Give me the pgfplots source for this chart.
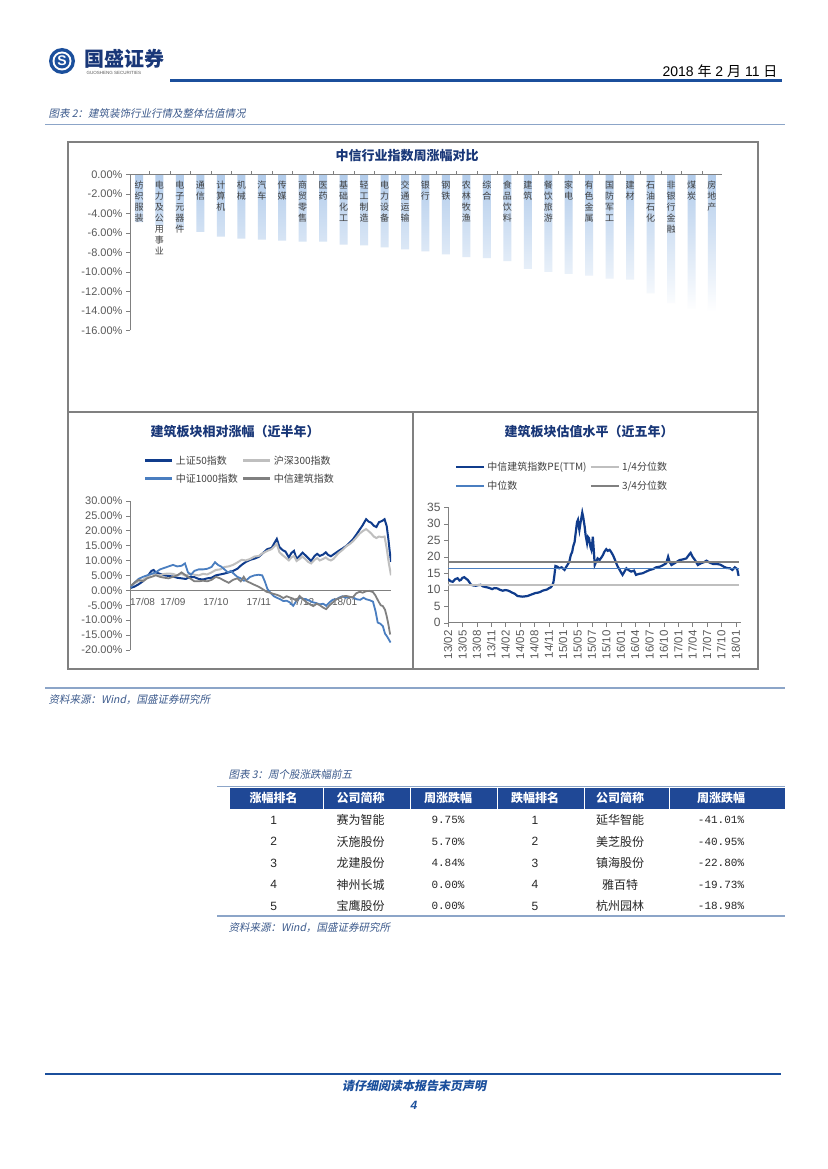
\documentclass[border=0pt]{standalone}
\usepackage{fontspec}
\usepackage{pgfplots}
\pgfplotsset{compat=1.18}
\setmainfont{Liberation Sans}
\newfontfamily\cjk{Noto Sans CJK SC}
\newfontfamily\cjkit{Noto Sans CJK SC}[FakeSlant=0.2]
\newfontfamily\mono{Liberation Mono}
\definecolor{navy}{RGB}{25,55,120}
\definecolor{hdrblue}{RGB}{27,79,156}
\definecolor{capblue}{RGB}{60,90,140}
\definecolor{linegrey}{RGB}{128,128,128}
\definecolor{lbl}{RGB}{89,89,89}
\definecolor{txt}{RGB}{64,64,64}
\definecolor{sz50}{RGB}{16,60,140}
\definecolor{hs300}{RGB}{191,191,191}
\definecolor{zz1000}{RGB}{74,126,192}
\definecolor{zxjz}{RGB}{128,128,128}
\definecolor{barblue}{RGB}{178,204,235}
\definecolor{tblblue}{RGB}{31,72,150}
\definecolor{rulelb}{RGB}{140,165,200}
\newcommand{\fs}[1]{\fontsize{#1}{#1}\selectfont}
\begin{document}
\begin{tikzpicture}[x=1pt,y=1pt]
\useasboundingbox[fill=white] (0,0) rectangle (827,-1169);
% ---------- header ----------
\fill[hdrblue] (62,-61) circle (13);
\fill[white] (62,-61) circle (9.5);
\fill[hdrblue] (62,-61) circle (7.5);
\node[text=white, font=\bfseries\fs{14}] at (62,-61) {S};
\node[anchor=west, font=\cjk\bfseries\fs{20}, text=navy] at (81,-59) {国盛证券};
\node[anchor=west, font=\fs{4.5}, text=lbl] at (83,-72.5) {GUOSHENG SECURITIES};
\node[anchor=east, font=\fs{14}, text=black] at (781,-71) {2018 {\cjk 年} 2 {\cjk 月} 11 {\cjk 日}};
\draw[hdrblue, line width=2.5] (170,-80.5) -- (782,-80.5);
\node[anchor=west, font=\cjkit\fs{10.5}, text=capblue] at (45,-114) {图表 2：建筑装饰行业行情及整体估值情况};
\draw[rulelb, line width=1.2] (45,-124.5) -- (785,-124.5);
% ---------- chart box ----------
\draw[linegrey, line width=1.5] (68,-142) rectangle (758,-669);
\draw[linegrey, line width=1.2] (68,-412) -- (758,-412);
\draw[linegrey, line width=1.2] (413,-412) -- (413,-669);
\node[font=\cjk\bfseries\fs{13}, text=navy] at (407,-156) {中信行业指数周涨幅对比};
\node[font=\cjk\bfseries\fs{13}, text=navy] at (235,-432) {建筑板块相对涨幅（近半年）};
\node[font=\cjk\bfseries\fs{13}, text=navy] at (589,-432) {建筑板块估值水平（近五年）};
% ---------- bar chart ----------
\begin{axis}[at={(130pt,-330.3pt)}, anchor=south west, scale only axis,
  width=592pt, height=156pt, clip=false, axis on top,
  xmin=-0.44, xmax=28.49, ymin=-16, ymax=0,
  axis x line=top, axis y line=left,
  axis line style={-, draw=linegrey, line width=0.8pt},
  xtick={0,...,28}, xtick style={draw=none},
  xticklabels={{纺\\织\\服\\装},{电\\力\\及\\公\\用\\事\\业},{电\\子\\元\\器\\件},{通\\信},{计\\算\\机},{机\\械},{汽\\车},{传\\媒},{商\\贸\\零\\售},{医\\药},{基\\础\\化\\工},{轻\\工\\制\\造},{电\\力\\设\\备},{交\\通\\运\\输},{银\\行},{钢\\铁},{农\\林\\牧\\渔},{综\\合},{食\\品\\饮\\料},{建\\筑},{餐\\饮\\旅\\游},{家\\电},{有\\色\\金\\属},{国\\防\\军\\工},{建\\材},{石\\油\\石\\化},{非\\银\\行\\金\\融},{煤\\炭},{房\\地\\产}},
  xticklabel style={anchor=north, yshift=-7.5pt, align=center, font=\cjk\fontsize{9}{11}\selectfont, text=txt},
  extra x ticks={-0.5,0.5,...,28.5}, extra x tick labels={},
  extra x tick style={xtick style={draw=linegrey}, major tick length=3pt},
  ytick={-16,-14,...,0},
  yticklabels={-16.00\%,-14.00\%,-12.00\%,-10.00\%,-8.00\%,-6.00\%,-4.00\%,-2.00\%,0.00\%},
  tick align=outside, major tick length=4pt, ytick style={draw=linegrey},
  yticklabel style={font=\fs{11}, text=lbl}]
\addplot[ybar, bar width=8pt, draw=none, top color=barblue, bottom color=white] coordinates {
(0,-4.9) (1,-5.3) (2,-5.6) (3,-5.9) (4,-6.4) (5,-6.6) (6,-6.7) (7,-6.8) (8,-6.9) (9,-6.9)
(10,-7.2) (11,-7.3) (12,-7.5) (13,-7.7) (14,-7.9) (15,-8.2) (16,-8.5) (17,-8.6) (18,-8.9) (19,-9.7)
(20,-10.0) (21,-10.2) (22,-10.4) (23,-10.7) (24,-10.8) (25,-12.2) (26,-13.2) (27,-13.8) (28,-14.1)};
\end{axis}
% ---------- relative performance ----------
\begin{axis}[at={(130pt,-650pt)}, anchor=south west, scale only axis,
  width=261pt, height=149.3pt,
  xmin=0, xmax=6.08, ymin=-20, ymax=30,
  axis x line=middle, axis y line=left,
  axis line style={-, draw=linegrey, line width=0.8pt},
  hide obscured x ticks=false, hide obscured y ticks=false,
  xtick={0,...,5}, xticklabels={\makebox[0pt][l]{17/08},17/09,17/10,17/11,17/12,18/01}, xtick style={draw=none},
  xticklabel style={font=\fs{10}, text=lbl},
  ytick={-20,-15,...,30},
  yticklabels={-20.00\%,-15.00\%,-10.00\%,-5.00\%,0.00\%,5.00\%,10.00\%,15.00\%,20.00\%,25.00\%,30.00\%},
  tick align=outside, major tick length=4pt, ytick style={draw=linegrey},
  yticklabel style={font=\fs{11}, text=lbl},
  legend columns=2, legend cell align=left,
  legend style={draw=none, fill=none, font=\cjk\fs{10}, text=txt, at={(0.052,1.315)}, anchor=north west,
    inner sep=0pt, row sep=4pt, /tikz/every even column/.append style={column sep=2pt}},
  legend image code/.code={\draw[#1, line width=3pt] (0pt,0pt) -- (27pt,0pt);}]
\addplot[sz50, line width=2pt] coordinates {
(0.02,0.8) (0.1,1.2) (0.2,2.0) (0.3,3.0) (0.4,4.5) (0.5,6.5) (0.55,6.8) (0.6,6.0) (0.7,5.5) (0.8,5.0) (0.9,4.8) (1.0,4.6) (1.1,4.2) (1.2,4.0) (1.3,3.8) (1.4,4.5) (1.5,4.4) (1.6,3.8) (1.7,3.6) (1.8,4.0) (1.9,4.2) (2.0,5.0) (2.1,5.3) (2.2,5.6) (2.3,6.0) (2.4,6.5) (2.5,7.2) (2.6,8.5) (2.7,9.5) (2.8,10.2) (2.9,10.6) (3.0,11.2) (3.1,12.5) (3.2,13.8) (3.3,14.2) (3.35,15.5) (3.42,17.2) (3.48,14.5) (3.55,13.5) (3.62,13.0) (3.7,11.0) (3.76,12.5) (3.82,13.2) (3.88,10.5) (3.95,11.5) (4.02,12.6) (4.08,11.8) (4.15,10.8) (4.22,9.8) (4.3,11.5) (4.36,12.2) (4.42,11.5) (4.5,12.0) (4.56,12.7) (4.62,11.8) (4.68,11.4) (4.74,12.0) (4.8,12.6) (4.86,13.2) (4.95,14.0) (5.04,14.9) (5.12,16.0) (5.2,17.2) (5.28,18.8) (5.35,20.3) (5.42,21.8) (5.5,23.8) (5.56,23.0) (5.62,22.6) (5.68,21.6) (5.74,21.2) (5.8,22.8) (5.87,23.2) (5.93,23.8) (5.98,21.5) (6.02,17.0) (6.05,13.0) (6.08,9.5)};
\addlegendentry{上证50指数}
\addplot[hs300, line width=2pt] coordinates {
(0.02,1.5) (0.1,2.3) (0.2,3.0) (0.3,3.5) (0.4,4.5) (0.5,5.5) (0.6,5.2) (0.7,5.0) (0.8,5.5) (0.9,5.6) (1.0,5.5) (1.1,5.0) (1.2,5.5) (1.3,4.8) (1.4,5.6) (1.5,5.2) (1.6,5.0) (1.7,5.5) (1.8,5.3) (1.9,6.0) (2.0,6.8) (2.1,7.0) (2.2,7.8) (2.3,8.0) (2.4,8.5) (2.5,9.3) (2.6,10.2) (2.7,10.0) (2.8,10.5) (2.9,11.3) (3.0,11.5) (3.1,12.5) (3.2,13.2) (3.3,13.8) (3.42,15.5) (3.48,12.8) (3.55,11.8) (3.62,11.0) (3.7,10.0) (3.76,11.0) (3.82,11.5) (3.88,9.8) (3.95,10.5) (4.02,11.3) (4.08,10.5) (4.15,9.5) (4.22,9.0) (4.3,10.2) (4.36,10.8) (4.42,10.0) (4.5,10.5) (4.56,11.0) (4.62,10.3) (4.68,10.0) (4.74,10.5) (4.8,11.5) (4.86,12.5) (4.95,13.5) (5.04,14.8) (5.12,15.5) (5.2,16.5) (5.28,17.8) (5.35,19.0) (5.42,19.8) (5.5,20.5) (5.56,19.8) (5.62,19.0) (5.68,18.0) (5.74,17.5) (5.8,18.0) (5.87,17.8) (5.93,18.0) (5.98,14.0) (6.03,9.0) (6.08,5.0)};
\addlegendentry{沪深300指数}
\addplot[zz1000, line width=1.8pt] coordinates {
(0.02,1.0) (0.1,2.5) (0.2,3.8) (0.3,4.5) (0.4,5.0) (0.5,5.5) (0.6,6.0) (0.7,7.0) (0.8,7.5) (0.9,8.0) (1.0,8.5) (1.1,8.0) (1.2,8.2) (1.28,9.0) (1.35,6.0) (1.42,5.2) (1.5,6.5) (1.6,7.0) (1.7,7.0) (1.8,7.2) (1.9,7.8) (1.98,9.4) (2.05,8.5) (2.12,8.0) (2.2,7.0) (2.28,6.0) (2.35,6.5) (2.42,5.5) (2.5,4.5) (2.58,4.0) (2.65,3.2) (2.72,3.5) (2.8,4.5) (2.9,5.0) (3.0,5.2) (3.08,5.0) (3.14,3.0) (3.2,0.5) (3.28,-1.0) (3.35,-2.0) (3.42,-2.5) (3.5,-3.0) (3.57,-3.6) (3.65,-3.5) (3.72,-4.0) (3.8,-5.2) (3.88,-3.5) (3.95,-2.4) (4.02,-2.8) (4.1,-3.0) (4.18,-3.5) (4.26,-4.0) (4.34,-4.3) (4.42,-4.7) (4.5,-4.5) (4.57,-5.2) (4.65,-4.0) (4.72,-3.2) (4.81,-3.0) (4.88,-2.4) (4.95,-2.0) (5.02,-2.5) (5.1,-2.2) (5.19,-2.4) (5.28,-3.0) (5.36,-3.2) (5.44,-2.5) (5.5,-3.0) (5.58,-3.3) (5.66,-3.8) (5.72,-7.0) (5.77,-10.8) (5.83,-11.2) (5.89,-12.0) (5.94,-14.5) (5.99,-15.5) (6.03,-16.5) (6.07,-17.5)};
\addlegendentry{中证1000指数}
\addplot[zxjz, line width=1.8pt] coordinates {
(0.02,1.5) (0.1,2.5) (0.2,3.5) (0.3,3.0) (0.4,4.0) (0.5,4.5) (0.6,5.0) (0.7,4.5) (0.8,4.2) (0.9,4.0) (1.0,4.5) (1.1,5.0) (1.2,6.0) (1.3,5.0) (1.4,4.0) (1.5,3.0) (1.6,3.0) (1.7,3.2) (1.8,3.0) (1.9,3.5) (2.0,4.5) (2.1,4.0) (2.2,3.2) (2.3,2.5) (2.4,3.5) (2.5,4.0) (2.58,3.0) (2.65,4.5) (2.71,3.1) (2.8,2.5) (2.87,2.0) (2.95,1.5) (3.02,1.0) (3.1,0.3) (3.18,-0.5) (3.26,-0.8) (3.34,-1.2) (3.42,-1.5) (3.49,-1.9) (3.57,-2.6) (3.65,-2.0) (3.72,-2.4) (3.8,-2.8) (3.88,-3.5) (3.95,-1.9) (4.03,-3.0) (4.11,-4.0) (4.19,-4.7) (4.27,-5.3) (4.35,-4.5) (4.42,-5.0) (4.5,-5.8) (4.57,-6.3) (4.65,-5.0) (4.73,-4.0) (4.81,-3.0) (4.9,-2.5) (4.97,-2.0) (5.04,-1.9) (5.12,-2.2) (5.19,-2.4) (5.27,-1.0) (5.35,-0.5) (5.42,-0.8) (5.5,-0.3) (5.58,-0.2) (5.66,-0.6) (5.72,-1.8) (5.78,-3.5) (5.84,-5.0) (5.89,-5.3) (5.94,-6.5) (5.98,-8.7) (6.02,-11.5) (6.06,-14.8)};
\addlegendentry{中信建筑指数}
\end{axis}
% ---------- valuation ----------
\begin{axis}[at={(448pt,-622.7pt)}, anchor=south west, scale only axis,
  width=293pt, height=115.4pt,
  xmin=0, xmax=61.1, ymin=0, ymax=35,
  axis lines=left, axis line style={-, draw=linegrey, line width=0.8pt},
  xtick={0,3,...,60},
  xticklabels={13/02,13/05,13/08,13/11,14/02,14/05,14/08,14/11,15/01,15/05,15/07,15/10,16/01,16/04,16/07,16/10,17/01,17/04,17/07,17/10,18/01},
  xticklabel style={rotate=90, anchor=east, font=\fs{11.5}, text=lbl},
  ytick={0,5,...,35}, yticklabels={0,5,10,15,20,25,30,35},
  yticklabel style={font=\fs{12}, text=lbl},
  tick align=outside, major tick length=4pt, tick style={draw=linegrey},
  legend columns=2, legend cell align=left,
  legend style={draw=none, fill=none, font=\cjk\fs{10}, text=txt, at={(0.024,1.41)}, anchor=north west,
    inner sep=0pt, row sep=5pt, /tikz/every even column/.append style={column sep=1pt}},
  legend image code/.code={\draw[#1] (0pt,0pt) -- (28pt,0pt);}]
\addplot[sz50, line width=2.2pt] coordinates {
(0,13.3) (0.5,12.6) (1.0,12.4) (1.5,13.2) (2.0,13.5) (2.4,12.8) (2.7,13.0) (3.0,13.6) (3.4,13.8) (3.8,13.3) (4.1,13.0) (4.5,12.2) (4.8,11.5) (5.3,11.3) (5.8,11.2) (6.3,11.4) (6.8,11.5) (7.3,11.0) (7.9,10.8) (8.5,10.6) (9.2,10.2) (9.7,10.5) (10.3,10.4) (10.8,10.0) (11.4,9.7) (11.9,9.9) (12.4,9.8) (12.9,9.5) (13.4,9.1) (13.9,8.8) (14.5,8.1) (15.0,8.0) (15.6,7.9) (16.1,8.0) (16.6,8.1) (17.1,8.4) (17.7,8.7) (18.2,9.0) (18.7,9.1) (19.2,9.3) (19.7,9.7) (20.2,9.9) (20.7,10.1) (21.1,10.5) (21.5,10.8) (21.8,11.5) (22.0,12.4) (22.2,14.5) (22.4,17.2) (22.8,17.0) (23.2,16.5) (23.7,16.8) (24.3,16.0) (24.6,16.8) (24.9,17.5) (25.3,18.5) (25.6,20.5) (25.9,21.5) (26.1,23.1) (26.4,24.5) (26.7,28.1) (26.9,30.5) (27.1,31.2) (27.3,29.0) (27.4,28.1) (27.6,30.0) (27.8,31.7) (28.0,33.4) (28.2,32.0) (28.5,29.1) (28.7,26.5) (29.0,24.1) (29.2,26.0) (29.4,25.6) (29.7,23.0) (29.9,22.1) (30.1,24.5) (30.2,26.1) (30.4,22.0) (30.6,17.5) (30.9,18.5) (31.2,19.5) (31.6,19.0) (32.0,19.8) (32.3,20.5) (32.6,21.5) (33.0,22.3) (33.3,21.8) (33.7,22.1) (34.0,21.5) (34.4,20.5) (34.7,19.5) (35.1,18.0) (35.4,17.0) (35.8,16.0) (36.1,15.2) (36.4,14.5) (36.8,15.5) (37.2,16.5) (37.6,16.0) (38.2,15.5) (38.8,15.8) (39.2,14.5) (39.8,14.8) (40.6,15.0) (41.3,15.5) (42.1,16.0) (42.8,16.3) (43.4,16.8) (44.2,17.0) (44.9,17.5) (45.5,18.0) (45.9,20.0) (46.2,18.5) (46.6,17.5) (47.2,18.0) (48.3,19.0) (49.0,19.2) (49.7,19.5) (50.2,20.5) (50.6,21.2) (51.0,20.0) (51.5,19.0) (52.1,17.5) (52.7,18.0) (53.3,18.3) (53.9,18.8) (54.6,18.2) (55.3,17.8) (56.1,17.8) (56.8,17.6) (57.5,17.0) (58.1,16.6) (58.8,16.5) (59.3,16.0) (59.8,16.8) (60.3,16.3) (60.6,14.2)};
\addlegendentry{中信建筑指数PE(TTM)}
\addplot[hs300, line width=2.5pt] coordinates {(0,11.4) (60.7,11.4)};
\addlegendentry{1/4分位数}
\addplot[zz1000, line width=1.6pt] coordinates {(0,16.5) (60.7,16.5)};
\addlegendentry{中位数}
\addplot[zxjz, line width=2pt] coordinates {(0,18.3) (60.7,18.3)};
\addlegendentry{3/4分位数}
\end{axis}
% ---------- source under charts ----------
\draw[rulelb, line width=1.2] (45,-688) -- (785,-688);
\node[anchor=west, font=\cjkit\fs{10.5}, text=capblue] at (45,-700) {资料来源：Wind，国盛证券研究所};
% ---------- table ----------
\node[anchor=west, font=\cjkit\fs{10.5}, text=capblue] at (225,-775) {图表 3：周个股涨跌幅前五};
\draw[rulelb, line width=1] (217,-786.5) -- (785,-786.5);
\fill[tblblue] (230,-787.5) rectangle (785,-808.5);
\foreach \xx in {323,410,497,584,669} {\draw[white, line width=0.8] (\xx,-787.5) -- (\xx,-808.5);}
\foreach \xx/\tt in {273.7/涨幅排名,360.7/公司简称,448/周涨跌幅,535/跌幅排名,620/公司简称,721/周涨跌幅}
  {\node[font=\cjk\bfseries\fs{12}, text=white] at (\xx,-798) {\tt};}
\foreach \i/\a/\b/\c/\d/\e in {
  0/赛为智能/9.75\%/1/延华智能/-41.01\%,
  1/沃施股份/5.70\%/2/美芝股份/-40.95\%,
  2/龙建股份/4.84\%/3/镇海股份/-22.80\%,
  3/神州长城/0.00\%/4/雅百特/-19.73\%,
  4/宝鹰股份/0.00\%/5/杭州园林/-18.98\%}{
  \pgfmathsetmacro{\yy}{-820-21.5*\i}
  \pgfmathtruncatemacro{\rk}{\i+1}
  \node[font=\fs{12}, text=black!85] at (273.7,\yy) {\rk};
  \node[font=\cjk\fs{12}, text=black!85] at (360.7,\yy) {\a};
  \node[font=\mono\fs{11}, text=black!85] at (448,\yy) {\b};
  \node[font=\fs{12}, text=black!85] at (535,\yy) {\c};
  \node[font=\cjk\fs{12}, text=black!85] at (620,\yy) {\d};
  \node[font=\mono\fs{11}, text=black!85] at (721,\yy) {\e};
}
\draw[rulelb, line width=1.2] (217,-916) -- (785,-916);
\node[anchor=west, font=\cjkit\fs{10.5}, text=capblue] at (225,-928) {资料来源：Wind，国盛证券研究所};
% ---------- footer ----------
\draw[hdrblue, line width=2.5] (45,-1074) -- (781,-1074);
\node[font=\cjkit\bfseries\fs{12}, text=hdrblue] at (414,-1086) {请仔细阅读本报告末页声明};
\node[font=\bfseries\itshape\fs{12}, text=hdrblue] at (414,-1105) {4};
\end{tikzpicture}
\end{document}
